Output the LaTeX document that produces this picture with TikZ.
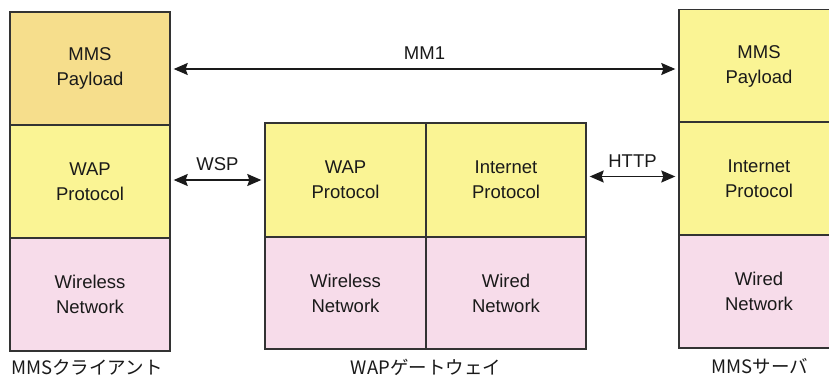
\documentclass[tikz,border=0pt]{standalone}
\usepackage{fontspec}
\setmainfont{Liberation Sans}
\newfontfamily\jpfont{Noto Sans CJK JP}
\usetikzlibrary{arrows.meta}
\definecolor{payloadorange}{HTML}{F6DE8C}
\definecolor{protoyellow}{HTML}{FAF494}
\definecolor{netpink}{HTML}{F7DCEA}
\definecolor{edgegray}{HTML}{333333}
\definecolor{inkgray}{HTML}{1A1A1A}
\tikzset{
  layer/.style={draw=edgegray, line width=1.4pt, minimum width=160pt, minimum height=113pt,
    inner sep=0pt, align=center, text=inkgray,
    font=\fontsize{18.5}{25}\selectfont},
  payload/.style={layer, fill=payloadorange},
  proto/.style={layer, fill=protoyellow},
  net/.style={layer, fill=netpink},
  caption/.style={text=inkgray, font=\jpfont\fontsize{18.5}{20}\selectfont},
  proto arrow/.style={{Stealth[length=14pt,width=12pt,inset=2pt]}-{Stealth[length=14pt,width=12pt,inset=2pt]},
    line width=1.4pt, draw=inkgray, shorten <=3pt, shorten >=3pt},
  arrow label/.style={text=inkgray, font=\fontsize{18.5}{20}\selectfont}
}
\begin{document}
\begin{tikzpicture}[x=1pt,y=-1pt]
\path[use as bounding box] (0,0) rectangle (829,380);
\fill[white] (0,0) rectangle (829,380);

% MMS client stack
\node[payload] (cp) at (90,68.5) {MMS\\Payload};
\node[proto]   (cw) at (90,181.5) {WAP\\Protocol};
\node[net]     (cn) at (90,294.5) {Wireless\\Network};
\node[caption] (cl) at (87,367) {MMSクライアント};

% WAP gateway: two columns
\node[proto, minimum width=161pt, minimum height=114pt] (gw) at (345.5,180) {WAP\\Protocol};
\node[proto, minimum width=160pt, minimum height=114pt] (gi) at (506,180) {Internet\\Protocol};
\node[net, minimum width=161pt, minimum height=112pt] (gn) at (345.5,293) {Wireless\\Network};
\node[net, minimum width=160pt, minimum height=112pt] (gd) at (506,293) {Wired\\Network};
\node[caption] (gl) at (426,367) {WAPゲートウェイ};

% MMS server stack
\node[proto] (sp) at (759,66) {MMS\\Payload};
\node[proto] (si) at (759,178.5) {Internet\\Protocol};
\node[net]   (sn) at (759,291.5) {Wired\\Network};
\node[caption] (sl) at (760,366) {MMSサーバ};

% Peer protocol connections
\draw[proto arrow] ([yshift=-0.5pt]cp.east) -- ([yshift=-0.5pt]cp.east -| sp.west)
  node[arrow label, midway, above=5pt] (mm1) {MM1};
\draw[proto arrow] ([yshift=1.5pt]cw.east) -- ([yshift=1.5pt]cw.east -| gw.west)
  node[arrow label, midway, above=5pt] (wsp) {WSP};
\draw[proto arrow] ([yshift=3.5pt]gi.east) -- ([yshift=3.5pt]gi.east -| si.west)
  node[arrow label, midway, above=5pt] (http) {HTTP};
\end{tikzpicture}
\end{document}
